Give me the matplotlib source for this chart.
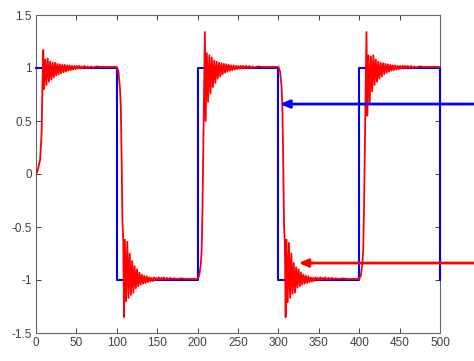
import matplotlib
matplotlib.use('Agg')
import numpy as np
import matplotlib.pyplot as plt

plt.rcParams['font.family'] = ['Liberation Sans', 'DejaVu Sans']
plt.rcParams['axes.unicode_minus'] = False

# reference square wave (blue)
ref_t = [0, 100, 200, 300, 400, 500]
ref_y = [1, -1, 1, -1, 1, -1]

# response (red): samples, offsets from each step time
step_times = [0, 100, 200, 300, 400]
ring_dt = [0, 2, 4, 5, 6, 7, 8, 9, 10, 11.5, 13, 14.5, 16, 17.5, 19, 20.5, 22, 23.5,
           25, 26.5, 28, 29.5, 31, 32.5, 34, 35.5, 37, 38.5, 40, 41.5, 43, 44.5, 46,
           47.5, 49, 50.5, 52, 53.5, 55, 56.5, 58, 60, 62, 64, 66, 68, 70, 75, 80,
           85, 90, 95, 99.5]

resp_0 = [0.0, 0.03, 0.1, 0.13, 0.25, 0.4, 0.85, 1.17, 0.8, 1.08, 0.84, 1.09, 0.87,
          1.06, 0.89, 1.05, 0.91, 1.05, 0.93, 1.04, 0.94, 1.035, 0.95, 1.03, 0.96,
          1.03, 0.965, 1.025, 0.975, 1.025, 0.98, 1.02, 0.985, 1.02, 0.99, 1.02,
          0.995, 1.02, 0.995, 1.015, 1.0, 1.02, 1.0, 1.015, 1.0, 1.015, 1.005, 1.015,
          1.01, 1.01, 1.01, 1.01, 1.01]
resp_100 = [1.01, 0.97, 0.8, 0.63, 0.13, -0.45, -0.62, -1.35, -0.62, -1.2, -0.64,
            -1.17, -0.75, -1.14, -0.82, -1.12, -0.87, -1.08, -0.9, -1.06, -0.93,
            -1.045, -0.95, -1.035, -0.96, -1.03, -0.965, -1.02, -0.975, -1.015,
            -0.98, -1.01, -0.975, -1.0, -0.98, -1.0, -0.975, -0.995, -0.98, -0.995,
            -0.975, -0.995, -0.98, -0.995, -0.98, -0.99, -0.985, -0.99, -0.985,
            -0.99, -0.99, -0.99, -0.99]
resp_200 = [-0.99, -0.96, -0.85, -0.72, -0.35, 0.2, 0.8, 1.34, 0.5, 1.14, 0.68,
            1.12, 0.76, 1.1, 0.82, 1.07, 0.86, 1.06, 0.9, 1.05, 0.92, 1.045, 0.94,
            1.04, 0.955, 1.035, 0.965, 1.03, 0.975, 1.025, 0.98, 1.025, 0.985, 1.02,
            0.99, 1.02, 0.995, 1.02, 0.995, 1.02, 1.0, 1.02, 1.0, 1.02, 1.0, 1.015,
            1.005, 1.015, 1.01, 1.01, 1.01, 1.01, 1.01]
resp_300 = [1.01, 0.97, 0.82, 0.6, 0.1, -0.5, -0.65, -1.35, -0.62, -1.21, -0.65,
            -1.17, -0.75, -1.13, -0.84, -1.12, -0.88, -1.07, -0.9, -1.06, -0.93,
            -1.045, -0.95, -1.035, -0.96, -1.03, -0.965, -1.02, -0.975, -1.015,
            -0.98, -1.01, -0.975, -1.0, -0.98, -1.0, -0.975, -0.995, -0.98, -0.995,
            -0.975, -0.995, -0.98, -0.995, -0.98, -0.99, -0.985, -0.99, -0.985,
            -0.99, -0.99, -0.99, -0.99]
resp_400 = [-0.99, -0.96, -0.84, -0.7, -0.3, 0.25, 0.82, 1.34, 0.55, 1.12, 0.66,
            1.11, 0.78, 1.12, 0.84, 1.08, 0.87, 1.06, 0.9, 1.05, 0.92, 1.045, 0.94,
            1.04, 0.955, 1.035, 0.965, 1.03, 0.975, 1.025, 0.98, 1.025, 0.985, 1.02,
            0.99, 1.02, 0.995, 1.02, 0.995, 1.02, 1.0, 1.02, 1.0, 1.02, 1.0, 1.015,
            1.005, 1.015, 1.01, 1.01, 1.01, 1.01, 1.01]
responses = [resp_0, resp_100, resp_200, resp_300, resp_400]

# arrow annotations (tip x, y)
blue_arrow = (302, 0.66)
red_arrow = (325, -0.84)

resp_t = np.concatenate([t0 + np.array(ring_dt) for t0 in step_times])
resp_y = np.concatenate([np.array(r) for r in responses])

fig = plt.figure(figsize=(4.74, 3.61), dpi=100)
ax = fig.add_axes([36 / 474, 28 / 361, 404 / 474, 318 / 361])

ax.plot(ref_t, ref_y, color='#0000ff', lw=1.5, drawstyle='steps-post', clip_on=False, zorder=3)
ax.plot(resp_t, resp_y, color='#ff0000', lw=1.3, zorder=4)

ax.set_xlim(0, 500)
ax.set_ylim(-1.5, 1.5)
ax.set_xticks(np.arange(0, 501, 50))
ax.set_yticks(np.arange(-1.5, 1.51, 0.5))
ax.set_yticklabels(['%g' % v for v in np.arange(-1.5, 1.51, 0.5)])
ax.tick_params(direction='in', top=True, right=True, length=3.5, width=0.7,
               labelsize=8.5, colors='#404040', pad=3)
for s in ax.spines.values():
    s.set_color('#666666')
    s.set_linewidth(0.8)

for (tx, ty), col in [(blue_arrow, '#0000ff'), (red_arrow, '#ff0000')]:
    ax.annotate('', xy=(tx, ty), xytext=(560, ty), xycoords='data', textcoords='data',
                annotation_clip=False, zorder=6,
                arrowprops=dict(arrowstyle='-|>,head_length=0.7,head_width=0.3',
                                color=col, lw=2, mutation_scale=8,
                                shrinkA=0, shrinkB=0))

fig.savefig('out.png', dpi=100)
